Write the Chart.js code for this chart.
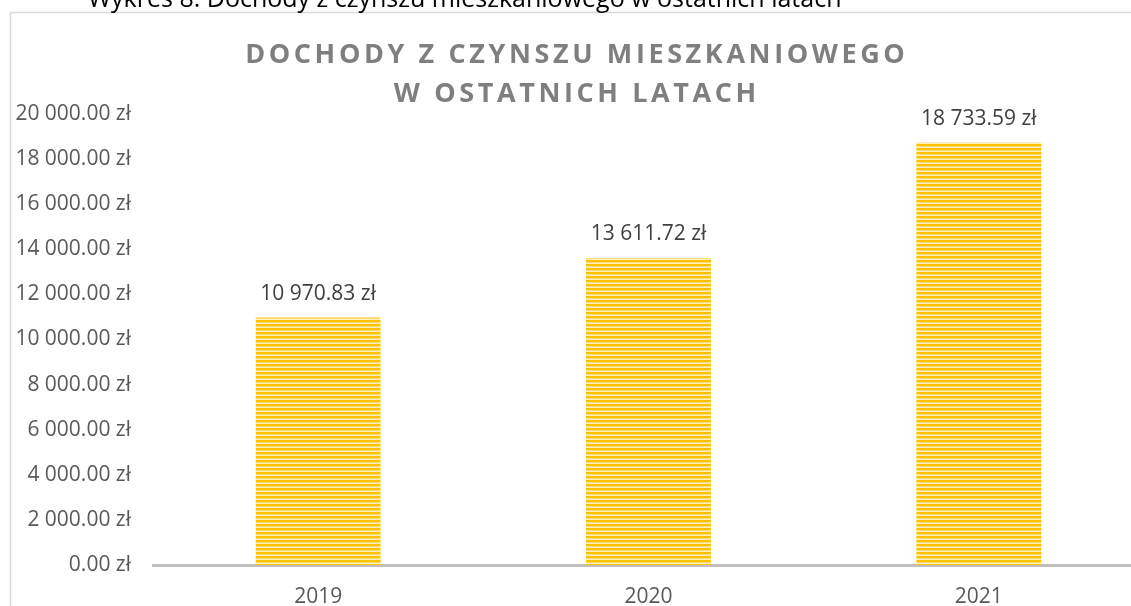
<!DOCTYPE html>
<html>
<head>
<meta charset="utf-8">
<script src="https://cdn.jsdelivr.net/npm/chart.js@4.4.1/dist/chart.umd.min.js"></script>
<style>
  html, body { margin: 0; padding: 0; background: #fff; overflow: hidden; }
  #wrap { position: absolute; left: 0; top: 0; width: 1160px; height: 606px; }
</style>
</head>
<body>
<div id="wrap"><canvas id="myChart" width="1160" height="606"></canvas></div>
<script>
// data
var years = ["2019", "2020", "2021"];
var income = [10970.83, 13611.72, 18733.59];
var yTicks = [0, 2000, 4000, 6000, 8000, 10000, 12000, 14000, 16000, 18000, 20000];
var caption = "Wykres 8: Dochody z czynszu mieszkaniowego w ostatnich latach";
var titleLines = ["DOCHODY Z CZYNSZU MIESZKANIOWEGO", "W OSTATNICH LATACH"];

// 10970.83 -> "10 970.83 zł"
function zloty(num) {
    let parts = Number(num).toFixed(2).split('.');
    let whole = parts[0].replace(/\B(?=(\d{3})+(?!\d))/g, ' ');
    return whole + '.' + parts[1] + ' zł';
}

// striped fill like the excel pattern
function stripes() {
    let c = document.createElement('canvas');
    c.width = 4; c.height = 4;
    let g = c.getContext('2d');
    let rows = ['#ffc000', '#ffc000', '#ffdc70', '#fff0c0'];
    rows.forEach((col, i) => { g.fillStyle = col; g.fillRect(0, i, 4, 1); });
    return g.createPattern(c, 'repeat');
}

const CHART = document.getElementById("myChart");

const decor = {
    id: 'decor',
    beforeDraw(chart) {
        const ctx = chart.ctx;
        ctx.save();
        ctx.strokeStyle = '#d9d9d9';
        ctx.lineWidth = 1.5;
        ctx.strokeRect(10.5, 12.5, 1300, 700);
        ctx.restore();
    },
    afterDraw(chart) {
        const ctx = chart.ctx;
        ctx.save();
        // caption above the frame (cut off at the top)
        ctx.fillStyle = '#000';
        ctx.font = '25px "Open Sans"';
        ctx.textAlign = 'left';
        ctx.textBaseline = 'alphabetic';
        ctx.fillText(caption, 88, 7);

        // title with wide letter spacing
        ctx.fillStyle = '#7f7f7f';
        ctx.font = 'bold 27px "Open Sans"';
        ctx.letterSpacing = '3.6px';
        let base = [63, 102];
        titleLines.forEach((line, i) => {
            let w = ctx.measureText(line).width - 3.6;
            ctx.fillText(line, 575 - w / 2, base[i]);
        });
        ctx.restore();
    },
    afterDatasetsDraw(chart) {
        const ctx = chart.ctx;
        const meta = chart.getDatasetMeta(0);
        ctx.save();
        ctx.fillStyle = '#404040';
        ctx.font = '21px "Open Sans"';
        ctx.textAlign = 'center';
        ctx.textBaseline = 'middle';
        meta.data.forEach((bar, i) => {
            ctx.fillText(zloty(income[i]), bar.x, bar.y - 24);
        });
        ctx.restore();
    }
};

let myChart = new Chart(CHART, {
    type: 'bar',
    data: {
        labels: years,
        datasets: [{
            data: income,
            backgroundColor: stripes(),
            borderWidth: 0,
            categoryPercentage: 1,
            barPercentage: 0.378
        }]
    },
    options: {
        responsive: false,
        animation: false,
        devicePixelRatio: 1,
        layout: { padding: { top: 114, right: 16, left: 0, bottom: 0 } },
        plugins: {
            legend: { display: false },
            title: { display: false },
            tooltip: { enabled: false }
        },
        scales: {
            x: {
                grid: { display: false },
                border: { display: true, color: '#bfbfbf', width: 3 },
                ticks: {
                    color: '#595959',
                    font: { family: 'Open Sans', size: 21 },
                    padding: 11
                },
                afterFit(scale) { scale.height = 41; }
            },
            y: {
                min: 0,
                max: 20000,
                grid: { display: false },
                border: { display: false },
                afterBuildTicks(scale) {
                    scale.ticks = yTicks.map(v => ({ value: v }));
                },
                ticks: {
                    color: '#595959',
                    font: { family: 'Open Sans', size: 21 },
                    padding: 14,
                    callback: v => zloty(v)
                },
                afterFit(scale) { scale.width = 153; }
            }
        }
    },
    plugins: [decor]
});
</script>
</body>
</html>
